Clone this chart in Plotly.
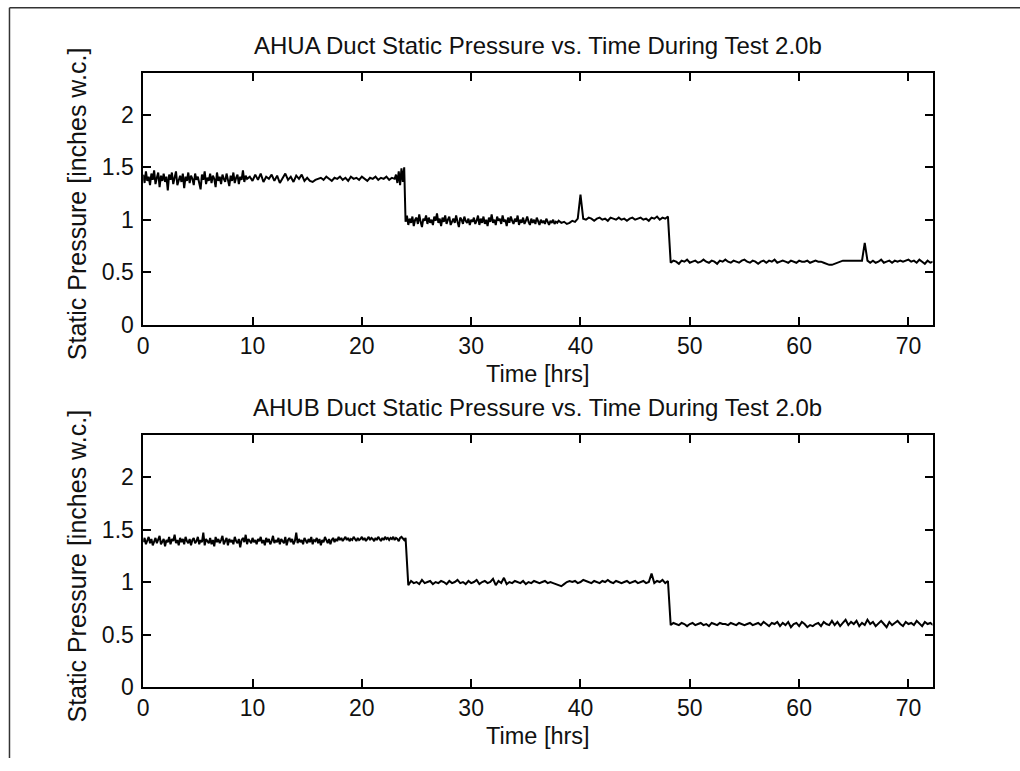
import plotly.graph_objects as go

# ---------------- data ----------------
# segments of (start time [hrs], sample step [hrs], pressure in hundredths of inch w.c.)
ahua_segments = [
    (0.0, 0.125, [143,135,146,137,141,133,144,138,147,134,140,145,131,142,137,144,136,141,128,143,
                  138,145,134,140,146,133,139,142,136,144,130,141,137,145,135,142,139,133,144,138,
                  141,136,129,143,138,146,134,140,137,144,135,142,139,131,145,137,141,134,143,139,
                  136,144,138,132,142,137,145,135,140,143,134,141,138,147,136,142,139]),
    (9.75, 0.25, [141,137,143,138,144,136,141,139,143,137,
                  142,135,140,144,138,141,136,142,139,143,137,140]),
    (15.25, 0.25, [137,136,138,139]),
    (16.25, 0.25, [140,138,141,139,137,140,139,141,138,140,
                   137,141,139,140,138,141,139,137,140,139,
                   141,138,140,139,141,138,140,139]),
    (23.125, 0.125, [143,135,146,133,149,136,150]),
    (24.0, 0.125, [98,104,95,101,97,103,94,100,102,96,105,98,93,101,99,104,96,102,97,100,
                   95,103,99,106,97,101,94,102,98,104,96,100,103,95,99,101,97,104,98,93,
                   102,100,96,103,99,97,101,95,100,98,102,96,99,104,95,101,97,103,96,100,
                   94,102,98,105,97,100,95,103,99,101,96,104,98,100,94,102,97,103,99,96,
                   101,98,104,95,100,97,102,96,99,103,98,95,101,97,100,96,102,98,95,100,
                   97,99,96,101,98,95,99,97,100,96,98,97,99]),
    (38.25, 0.25, [97,98,96,97,99,98]),
    (39.75, 0.25, [101,124,101]),
    (40.5, 0.25, [100,102,101,99,101,102,100,101,99,102,
                  101,100,102,100,101,99,101,102,100,101,
                  102,100,101,99,102,101,103,100,102,101,103]),
    (48.25, 0.25, [59,61,60,58,61,60,62,59,60,61,
                   59,60,62,60,59,61,60,58,61,60,
                   62,60,59,61,60,59,61,62,60,59,
                   61,60,58,60,61,59,61,60,62,59,
                   60,61,60,59,61,60,59,61,60,60,
                   61,59,60,61,60,60,59]),
    (62.5, 0.25, [58,57,57,58,59]),
    (63.75, 0.25, [60,61,61,61,61,61,61,61,61]),
    (66.0, 0.25, [78,61]),
    (66.5, 0.25, [59,61,59,60,62,59,60,61,59,61,
                  60,61,60,61,62,60,61,59,62,60,
                  58,61,59,60]),
]

ahub_segments = [
    (0.0, 0.125, [138,142,136,140,143,137,141,135,139,142,137,140,144,136,139,141,134,140,138,143,
                  136,141,139,145,137,140,135,142,138,141,136,143,139,137,141,135,140,142,137,139,
                  143,136,140,138,147,135,141,139,137,142,136,140,134,143,138,141,137,140,144,136,
                  139,142,135,141,138,140,136,143,139,137,141,133,140,142,138,145,136,141,139,137,
                  142,138,140,136,141,139,143,137,140,135,142,138,141,136,139,144,137,140,138,142,
                  136,141,139,137,143,135,140,142,138,141,136,139,147,137,141,138,140,136,142,139,
                  137,141,138,143,136,140,139,142,137,141,135,140,138,143,139,137,141,136,140,142,
                  138,141,139,143,140,142,139,141,143,140,142,139,141,140,143,141,139,142,140,141,
                  143,140,142,139,141,143,140,142,141,139,142,140,143,141,139,142,140,143,141,142,
                  140,142,141,143,140,142,141,139,142,143,141,140,142]),
    (24.25, 0.25, [97,101,99,100,98,102,99,100,101,98,100,99,101,100,98,101,99,100,102,99,
                   100,98,101,99,100,102,98,100,101,99,100,103,97,101,99,104,98,100,99,101,
                   100,99,101,98,100,99,101,100,99,100,101,99,100,99,98,97,96,98,100,101,
                   100,101,99,100,102,101,100,99,101,100,99,101,100,102,100,99,101,100,99,100,
                   101,99,100,101,99,100,101,99,100,108,99,101,100,102,99,101]),
    (48.25, 0.25, [59,61,60,59,61,60,58,60,61,59,60,61,59,60,58,61,60,59,61,60,
                   60,59,61,60,59,61,60,59,60,61,59,60,61,59,62,60,58,61,60,62,
                   58,61,59,62,57,60,61,58,62,60,57,59,58,60,61,58,62,60,59,63,
                   59,62,58,61,64,59,62,60,63,58,61,59,64,60,62,58,61,63,60,57,
                   62,59,61,63,60,58,62,60,61,59,63,60,58,62,60,61,59]),
]

titles = ["AHUA Duct Static Pressure vs. Time During Test 2.0b",
          "AHUB Duct Static Pressure vs. Time During Test 2.0b"]
x_ticks = [0, 10, 20, 30, 40, 50, 60, 70]
y_ticks = [0, 0.5, 1, 1.5, 2]
y_tick_text = ["0", "0.5", "1", "1.5", "2"]
x_label = "Time [hrs]"
y_label = "Static Pressure [inches w.c.]"


def expand(segments):
    t, y = [], []
    for start, step, vals in segments:
        for k, v in enumerate(vals):
            t.append(start + k * step)
            y.append(v / 100.0)
    return t, y


W, H = 1020, 771
FONT = "Liberation Sans, Arial, sans-serif"
TXT = "#111111"

fig = go.Figure()

series = [expand(ahua_segments), expand(ahub_segments)]
# axes pixel boxes (top, bottom)
boxes = [(74.1, 330.2), (442.5, 698.8)]
xl, xr = 138, 932

for i, ((t, y), (top, bot)) in enumerate(zip(series, boxes)):
    xa = "x" if i == 0 else "x2"
    ya = "y" if i == 0 else "y2"
    fig.add_trace(go.Scatter(x=t, y=y, mode="lines",
                             line=dict(color="black", width=2),
                             xaxis=xa, yaxis=ya, showlegend=False,
                             hoverinfo="skip"))
    axis_common = dict(showgrid=False, zeroline=False, showline=True,
                       linecolor="black", linewidth=1.5, mirror="ticks",
                       ticks="inside", ticklen=8, tickwidth=1.5,
                       tickcolor="black",
                       tickfont=dict(family=FONT, size=23, color=TXT))
    xkey = "xaxis" if i == 0 else "xaxis2"
    ykey = "yaxis" if i == 0 else "yaxis2"
    fig.update_layout(**{
        xkey: dict(axis_common, domain=[xl / W, xr / W], range=[0, 72.2],
                   tickmode="array", tickvals=x_ticks,
                   anchor=ya, ticklabelstandoff=0),
        ykey: dict(axis_common, domain=[1 - bot / H, 1 - top / H],
                   range=[0, 2.4], tickmode="array", tickvals=y_ticks,
                   ticktext=y_tick_text, anchor=xa, ticklabelstandoff=3),
    })
    cx = (xl + xr) / 2
    fig.add_annotation(text=titles[i], x=cx / W, y=1 - (top - 28) / H,
                       xref="paper", yref="paper", showarrow=False,
                       xanchor="center", yanchor="middle",
                       font=dict(family=FONT, size=24, color=TXT))
    fig.add_annotation(text=x_label, x=cx / W, y=1 - (bot + 50) / H,
                       xref="paper", yref="paper", showarrow=False,
                       xanchor="center", yanchor="middle",
                       font=dict(family=FONT, size=23.5, color=TXT))
    fig.add_annotation(text=y_label, x=71 / W, y=1 - ((top + bot) / 2 + 5) / H,
                       xref="paper", yref="paper", showarrow=False,
                       xanchor="center", yanchor="middle", textangle=-90,
                       font=dict(family=FONT, size=25, color=TXT))

# figure frame lines (left and top edges)
fig.add_shape(type="line", xref="paper", yref="paper",
              x0=3.5 / W, x1=1, y0=1 - 8 / H, y1=1 - 8 / H,
              line=dict(color="#333333", width=1.5))
fig.add_shape(type="line", xref="paper", yref="paper",
              x0=3.5 / W, x1=3.5 / W, y0=0, y1=1 - 8 / H,
              line=dict(color="#333333", width=1.5))

fig.update_layout(width=W, height=H, margin=dict(l=0, r=0, t=0, b=0),
                  paper_bgcolor="white", plot_bgcolor="white",
                  font=dict(family=FONT, color="black"))

fig.write_html("out.html", config={"displayModeBar": False},
               post_script="document.body.style.margin='0px';"
                           "document.body.style.overflow='hidden';")
